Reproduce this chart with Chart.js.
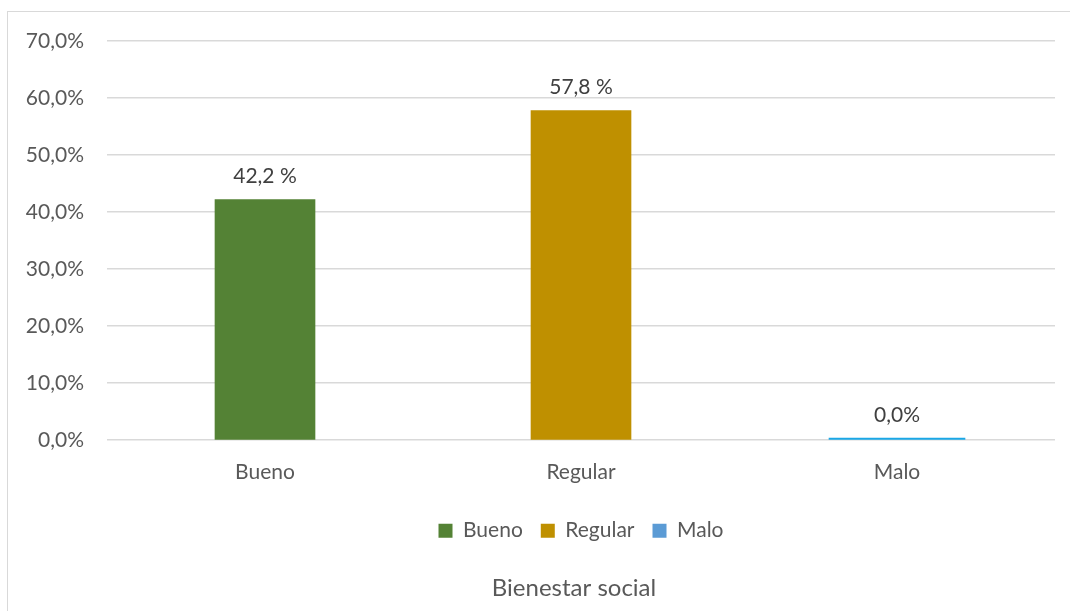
<!DOCTYPE html>
<html>
<head>
<meta charset="utf-8">
<script src="https://cdn.jsdelivr.net/npm/chart.js@4.4.1/dist/chart.umd.min.js"></script>
<style>
  html, body { margin: 0; padding: 0; background: #fff; overflow: hidden; }
  #frame {
    position: absolute; left: 7px; top: 11px;
    width: 1070px; height: 611px;
    border-left: 1px solid #d9d9d9; border-top: 1px solid #d9d9d9;
  }
  #wrap { position: absolute; left: 0; top: 0; width: 1063px; height: 600px; }
</style>
</head>
<body>
<div id="frame"><div id="wrap"><canvas id="chart"></canvas></div></div>
<script>
// Bienestar social: share of respondents per level
const categories = ["Bueno", "Regular", "Malo"];
const percentages = [42.2, 57.8, 0.0];
const labelSuffix = [" %", " %", "%"];
const yTicks = [0, 10, 20, 30, 40, 50, 60, 70];

const barColors = ["#548235", "#BF9000", "#1AA7E6"];
const legendColors = ["#548235", "#BF9000", "#5B9BD5"];
const barWidths = [100, 100, 136];

const FONT = "Lato, 'Open Sans', sans-serif";
const TEXT = "#595959";

function fmt(v) {
  return v.toFixed(1).replace(".", ",");
}

// one dataset per category so each gets its own legend entry
const datasets = categories.map((name, i) => ({
  label: name,
  data: categories.map((_, j) => (j === i ? percentages[i] : null)),
  backgroundColor: barColors[i],
  barThickness: barWidths[i],
  minBarLength: percentages[i] === 0 ? 2 : 0,
  suffix: labelSuffix[i],
}));

const valueLabels = {
  id: "valueLabels",
  afterDatasetsDraw(chart) {
    const ctx = chart.ctx;
    ctx.save();
    ctx.font = "21px " + FONT;
    ctx.fillStyle = "#404040";
    ctx.textAlign = "center";
    ctx.textBaseline = "middle";
    chart.data.datasets.forEach((ds, i) => {
      const meta = chart.getDatasetMeta(i);
      meta.data.forEach((bar, j) => {
        const v = ds.data[j];
        if (v === null || v === undefined) return;
        const top = Math.min(bar.y, bar.base);
        ctx.fillText(fmt(v) + ds.suffix, bar.x, top - 23);
      });
    });
    ctx.restore();
  },
};

// center legend and title under the plot area instead of the whole canvas
const centerUnderPlot = {
  id: "centerUnderPlot",
  afterLayout(chart) {
    const area = chart.chartArea;
    if (chart.legend) {
      chart.legend.left = area.left;
      chart.legend.right = area.right;
      chart.legend.adjustHitBoxes();
    }
    if (chart.titleBlock) {
      chart.titleBlock.left = area.left - 7;
      chart.titleBlock.right = area.right - 7;
    }
  },
};

new Chart(document.getElementById("chart").getContext("2d"), {
  type: "bar",
  data: { labels: categories, datasets },
  options: {
    responsive: true,
    maintainAspectRatio: false,
    animation: false,
    layout: { padding: { top: 29, right: 16, left: 0, bottom: 9 } },
    plugins: {
      legend: {
        position: "bottom",
        labels: {
          font: { family: FONT, size: 21 },
          color: TEXT,
          boxWidth: 14,
          boxHeight: 14,
          padding: 18,
          generateLabels(chart) {
            return chart.data.datasets.map((ds, i) => ({
              text: ds.label,
              fillStyle: legendColors[i],
              strokeStyle: legendColors[i],
              lineWidth: 0,
              fontColor: TEXT,
              datasetIndex: i,
            }));
          },
        },
      },
      title: {
        display: true,
        position: "bottom",
        text: "Bienestar social",
        color: TEXT,
        font: { family: FONT, size: 24, weight: "normal" },
        padding: { top: 23, bottom: 0 },
      },
      tooltip: { enabled: false },
    },
    scales: {
      x: {
        stacked: true,
        grid: { display: false },
        border: { display: false },
        afterFit(scale) {
          scale.height = 62;
        },
        ticks: {
          color: TEXT,
          font: { family: FONT, size: 21 },
          padding: 11,
        },
      },
      y: {
        min: 0,
        max: 70,
        afterBuildTicks(scale) {
          scale.ticks = yTicks.map((v) => ({ value: v }));
        },
        afterFit(scale) {
          scale.width = 99;
          scale.paddingTop = 0;
          scale.paddingBottom = 0;
        },
        grid: { color: "#d9d9d9", lineWidth: 1.5, drawTicks: false },
        border: { display: false },
        ticks: {
          color: TEXT,
          font: { family: FONT, size: 21 },
          padding: 23,
          callback: (v) => fmt(v) + "%",
        },
      },
    },
  },
  plugins: [valueLabels, centerUnderPlot],
});
</script>
</body>
</html>
